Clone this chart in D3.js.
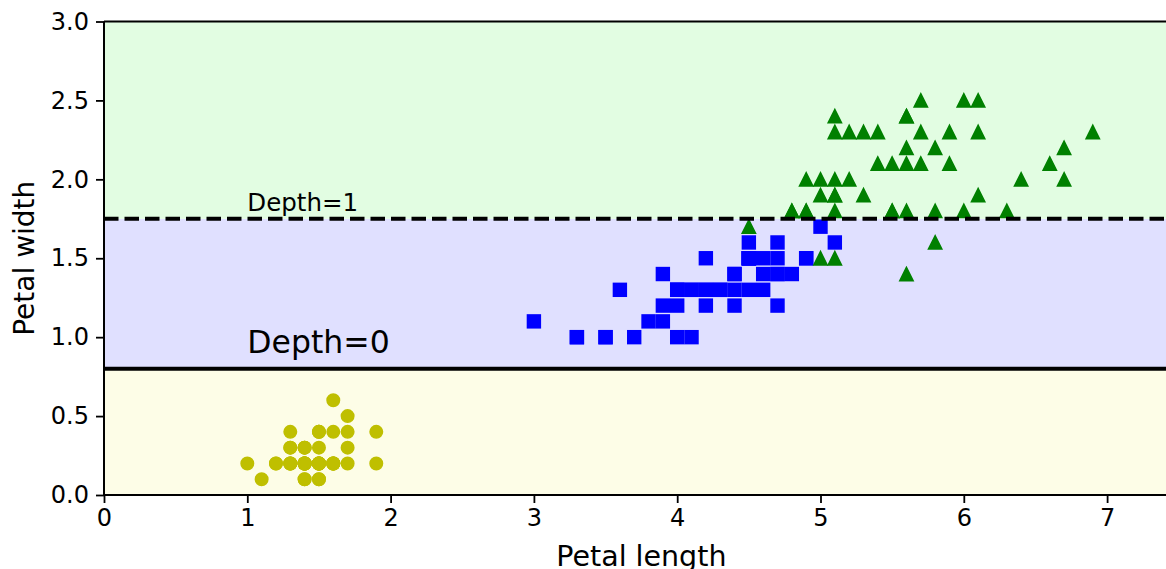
<!DOCTYPE html>
<html>
<head>
<meta charset="utf-8">
<script src="https://cdn.jsdelivr.net/npm/d3@7"></script>
<style>
  html, body { margin: 0; padding: 0; background: #fff; }
  svg { display: block; }
  text { font-family: "DejaVu Sans", sans-serif; fill: #000; }
</style>
</head>
<body>
<svg id="chart" width="1166" height="569"></svg>
<script>
// ---- data (iris petal length / width) ----
const setosaLength = [1.4,1.4,1.3,1.5,1.4,1.7,1.4,1.5,1.4,1.5,1.5,1.6,1.4,1.1,1.2,1.5,1.3,1.4,1.7,1.5,1.7,1.5,1.0,1.7,1.9,1.6,1.6,1.5,1.4,1.6,1.6,1.5,1.5,1.4,1.5,1.2,1.3,1.4,1.3,1.5,1.3,1.3,1.3,1.6,1.9,1.4,1.6,1.4,1.5,1.4];
const setosaWidth  = [0.2,0.2,0.2,0.2,0.2,0.4,0.3,0.2,0.2,0.1,0.2,0.2,0.1,0.1,0.2,0.4,0.4,0.3,0.3,0.3,0.2,0.4,0.2,0.5,0.2,0.2,0.4,0.2,0.2,0.2,0.2,0.4,0.1,0.2,0.2,0.2,0.2,0.1,0.2,0.2,0.3,0.3,0.2,0.6,0.4,0.3,0.2,0.2,0.2,0.2];
const versicolorLength = [4.7,4.5,4.9,4.0,4.6,4.5,4.7,3.3,4.6,3.9,3.5,4.2,4.0,4.7,3.6,4.4,4.5,4.1,4.5,3.9,4.0,4.9,4.7,4.3,4.4,4.8,5.0,4.5,3.5,3.8,3.7,3.9,5.1,4.5,4.5,4.7,4.4,4.1,4.0,4.4,4.6,4.0,3.3,4.2,4.2,4.2,4.3,3.0,4.1];
const versicolorWidth  = [1.4,1.5,1.5,1.3,1.5,1.3,1.6,1.0,1.3,1.4,1.0,1.5,1.0,1.4,1.3,1.4,1.5,1.0,1.5,1.1,1.3,1.5,1.2,1.3,1.4,1.4,1.7,1.5,1.0,1.1,1.0,1.2,1.6,1.5,1.6,1.5,1.3,1.3,1.3,1.2,1.4,1.2,1.0,1.3,1.2,1.3,1.3,1.1,1.3];
const virginicaLength = [6.0,5.1,5.9,5.6,5.8,6.6,4.5,6.3,5.8,6.1,5.1,5.3,5.5,5.0,5.1,5.3,5.5,6.7,6.9,5.0,5.7,4.9,6.7,4.9,5.7,6.0,4.8,4.9,5.6,5.8,6.1,6.4,5.6,5.1,5.6,6.1,5.6,5.5,4.8,5.4,5.6,5.1,5.1,5.9,5.7,5.2,5.0,5.2,5.4,5.1];
const virginicaWidth  = [2.5,1.9,2.1,1.8,2.2,2.1,1.7,1.8,1.8,2.5,2.0,1.9,2.1,2.0,2.4,2.3,1.8,2.2,2.3,1.5,2.3,2.0,2.0,1.8,2.1,1.8,1.8,1.8,2.1,1.6,1.9,2.0,2.2,1.5,1.4,2.3,2.4,1.8,1.8,2.1,2.4,2.3,1.9,2.3,2.5,2.3,1.9,2.0,2.3,1.8];

// decision tree split thresholds and region classes
const splitThresholds = [0.8, 1.75];
const regionBounds = [[0, 0.8], [0.8, 1.75], [1.75, 3.0]];
const regionColors = ["#fdfde7", "#e0e0ff", "#e2fde2"];

const xDomain = [0, 7.5];
const yDomain = [0, 3.0];
const xTicks = [0, 1, 2, 3, 4, 5, 6, 7];
const yTicks = [0.0, 0.5, 1.0, 1.5, 2.0, 2.5, 3.0];

const depthLabels = ["Depth=0", "Depth=1"];
const depthLabelX = [1.0, 1.0];
const depthLabelY = [0.9, 1.8];

// ---- layout ----
const svg = d3.select("#chart");
const plotLeft = 104, plotTop = 21.5, plotBottom = 495;
const pxPerUnit = 143.3;
const x = d3.scaleLinear().domain(xDomain).range([plotLeft, plotLeft + pxPerUnit * (xDomain[1] - xDomain[0])]);
const y = d3.scaleLinear().domain(yDomain).range([plotBottom, plotTop]);

// background regions
svg.append("g").selectAll("rect").data(regionBounds).join("rect")
  .attr("x", x(xDomain[0]))
  .attr("width", x(xDomain[1]) - x(xDomain[0]))
  .attr("y", d => y(d[1]))
  .attr("height", d => y(d[0]) - y(d[1]))
  .attr("fill", (d, i) => regionColors[i]);

// points
const setosa = setosaLength.map((v, i) => [v, setosaWidth[i]]);
const versicolor = versicolorLength.map((v, i) => [v, versicolorWidth[i]]);
const virginica = virginicaLength.map((v, i) => [v, virginicaWidth[i]]);

svg.append("g").selectAll("circle").data(setosa).join("circle")
  .attr("cx", d => x(d[0])).attr("cy", d => y(d[1])).attr("r", 6.2)
  .attr("fill", "#bfbf00").attr("stroke", "#bfbf00").attr("stroke-width", 1.6);

const sq = 12.8;
svg.append("g").selectAll("rect").data(versicolor).join("rect")
  .attr("x", d => x(d[0]) - sq / 2).attr("y", d => y(d[1]) - sq / 2)
  .attr("width", sq).attr("height", sq)
  .attr("fill", "#0000ff").attr("stroke", "#0000ff").attr("stroke-width", 1.6);

const th = 6.6;
svg.append("g").selectAll("path").data(virginica).join("path")
  .attr("d", d => {
    const cx = x(d[0]), cy = y(d[1]);
    return `M${cx},${cy - th}L${cx - th},${cy + th}L${cx + th},${cy + th}Z`;
  })
  .attr("fill", "#008000").attr("stroke", "#008000").attr("stroke-width", 1.6)
  .attr("stroke-linejoin", "miter");

// split lines
svg.append("line")
  .attr("x1", x(xDomain[0])).attr("x2", x(xDomain[1]))
  .attr("y1", y(splitThresholds[0])).attr("y2", y(splitThresholds[0]))
  .attr("stroke", "#000").attr("stroke-width", 4);
svg.append("line")
  .attr("x1", x(xDomain[0])).attr("x2", x(xDomain[1]))
  .attr("y1", y(splitThresholds[1])).attr("y2", y(splitThresholds[1]))
  .attr("stroke", "#000").attr("stroke-width", 4)
  .attr("stroke-dasharray", "14.5,6");

// depth labels
svg.append("text").attr("x", x(depthLabelX[0])).attr("y", y(depthLabelY[0]))
  .attr("font-size", 31.5).text(depthLabels[0]);
svg.append("text").attr("x", x(depthLabelX[1])).attr("y", y(depthLabelY[1]))
  .attr("font-size", 24.5).text(depthLabels[1]);

// axes
const xAxis = d3.axisBottom(x).tickValues(xTicks).tickFormat(d3.format("d")).tickSize(8).tickPadding(6);
const yAxis = d3.axisLeft(y).tickValues(yTicks).tickFormat(d3.format(".1f")).tickSize(8).tickPadding(7);

const gx = svg.append("g").attr("transform", `translate(0,${plotBottom})`).call(xAxis);
const gy = svg.append("g").attr("transform", `translate(${plotLeft},0)`).call(yAxis);
[gx, gy].forEach(g => {
  g.selectAll("text").attr("font-size", 24).attr("font-family", "DejaVu Sans").attr("fill", "#000");
  g.selectAll(".tick line").attr("stroke", "#000").attr("stroke-width", 1.8);
  g.select(".domain").remove();
});

// spines
svg.append("line").attr("x1", plotLeft).attr("x2", plotLeft).attr("y1", plotTop).attr("y2", plotBottom)
  .attr("stroke", "#000").attr("stroke-width", 2);
svg.append("line").attr("x1", plotLeft).attr("x2", x(xDomain[1])).attr("y1", plotBottom).attr("y2", plotBottom)
  .attr("stroke", "#000").attr("stroke-width", 2);
svg.append("line").attr("x1", plotLeft).attr("x2", x(xDomain[1])).attr("y1", plotTop).attr("y2", plotTop)
  .attr("stroke", "#000").attr("stroke-width", 2);
svg.append("line").attr("x1", x(xDomain[1])).attr("x2", x(xDomain[1])).attr("y1", plotTop).attr("y2", plotBottom)
  .attr("stroke", "#000").attr("stroke-width", 2);

// axis titles
svg.append("text").attr("x", (x(xDomain[0]) + x(xDomain[1])) / 2).attr("y", 566)
  .attr("text-anchor", "middle").attr("font-size", 28.5).text("Petal length");
svg.append("text")
  .attr("transform", `translate(34,${(plotTop + plotBottom) / 2}) rotate(-90)`)
  .attr("text-anchor", "middle").attr("font-size", 28).text("Petal width");
</script>
</body>
</html>
